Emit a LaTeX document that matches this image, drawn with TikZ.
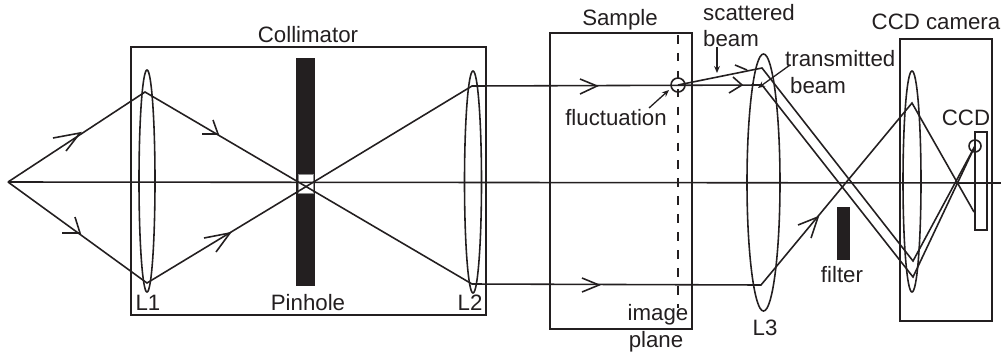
\documentclass[tikz,border=0pt]{standalone}
\usepackage{fontspec}
\setmainfont{Liberation Sans}
\usetikzlibrary{arrows.meta}
\definecolor{ink}{HTML}{231F20}
\tikzset{
  ray/.style={draw=ink, line width=1.35pt},
  boxline/.style={draw=ink, line width=1.35pt},
  label/.style={text=ink, inner sep=0pt, font=\fontsize{19}{19}\selectfont},
  pointer/.style={draw=ink, line width=1.1pt, -{Stealth[length=6pt,width=5pt]}}
}
\begin{document}
\begin{tikzpicture}[x=.03cm, y=-.03cm]
    \useasboundingbox (0,0) rectangle (1001,355);
    % ray corners
    \coordinate (src) at (8,182);
    \coordinate (axisend) at (1001,183);
    \coordinate (L1top) at (145,92);
    \coordinate (L1bot) at (147,283);
    \coordinate (L2top) at (472,86);
    \coordinate (L2bot) at (472,284);
    \coordinate (scat) at (762,68);
    \coordinate (trans) at (762,85);
    \coordinate (lower) at (761,285);
    \coordinate (L4a) at (913,261);
    \coordinate (L4b) at (913,277);
    \coordinate (L4c) at (912,103);
    \coordinate (ccdspot) at (975,146);
    \coordinate (ccdlow) at (974,212);
    % boxes
    \draw[boxline] (131,47) rectangle (486,315);
    \draw[boxline] (550,33) rectangle (692,329);
    \draw[boxline] (900,39) rectangle (992,321);
    \draw[boxline] (975,132) rectangle (987,230);
    % pinhole and filter
    \fill[ink] (296,58) rectangle (315,286);
    \filldraw[fill=white, draw=black!45, line width=.5pt] (298,174) rectangle (313,193);
    \fill[ink] (837,207) rectangle (850,260);
    % image plane
    \draw[ink, line width=1.35pt, dash pattern=on 7.3pt off 8pt] (678,35) -- (678,308);
    % lenses
    \foreach \x/\y/\rx/\ry in {147/181/8/111, 473/182/8.5/111, 763.5/182.5/16.5/128.5, 912/181.5/9/110.5}
        \draw[ray] (\x,\y) ellipse (\rx cm*.03 and \ry cm*.03);
    % rays
    \draw[ray] (src) -- (axisend);
    \draw[ray] (src) -- (L1top) -- (L2bot) -- (lower) -- (L4c) -- (ccdlow);
    \draw[ray] (src) -- (L1bot) -- (L2top) -- (trans) -- (L4b) -- (ccdspot);
    \draw[ray] (678,85) -- (scat) -- (L4a) -- (ccdspot);
    % chevrons on the rays
    \foreach \tx/\ty/\ax/\ay/\bx/\by in {
        80/133/53/138/66/151, 80/233/62/233/75/217,
        218/134/202/134/213/120, 230/233/204/238/216/252,
        597/86/580/79/580/94, 599/285/582/278/582/292,
        742/85/733/77/729/93, 747/70/735/65/735/65,
        818/217/798/225/811/238}
        \draw[ray] (\ax,\ay) -- (\tx,\ty) -- (\bx,\by);
    % fluctuation and its image
    \draw[ray] (678,85) circle (7cm*.03);
    \draw[ray] (ccdspot) circle (6cm*.03);
    % labels
    \node[label] (collimator) at (308,35) {Collimator};
    \node[label] (sample) at (620,20) {Sample};
    \node[label, anchor=west] (scattered) at (703,13) {scattered};
    \node[label, anchor=west] (scatbeam) at (703,39) {beam};
    \node[label, anchor=west] (transmitted) at (785,59) {transmitted};
    \node[label] (transbeam) at (818,86) {beam};
    \node[label] (camera) at (936,22) {CCD camera};
    \node[label] (ccd) at (966,118) {CCD};
    \node[label] (fluct) at (616,118) {fluctuation};
    \node[label] (lone) at (148,303) {L1};
    \node[label] (pinhole) at (308,303) {Pinhole};
    \node[label] (ltwo) at (470,303) {L2};
    \node[label] (lthree) at (765,328) {L3};
    \node[label] (filter) at (842,275) {filter};
    \node[label] (image) at (658,315) {image};
    \node[label] (plane) at (656,342) {plane};
    % pointers
    \coordinate (scattip) at (717,73);
    \coordinate (transtip) at (758,88);
    \coordinate (flucttip) at (669,90);
    \draw[pointer] (717,47) -- (scattip);
    \draw[pointer] (790,65) -- (transtip);
    \draw[pointer] (649,108) -- (flucttip);
\end{tikzpicture}
\end{document}
